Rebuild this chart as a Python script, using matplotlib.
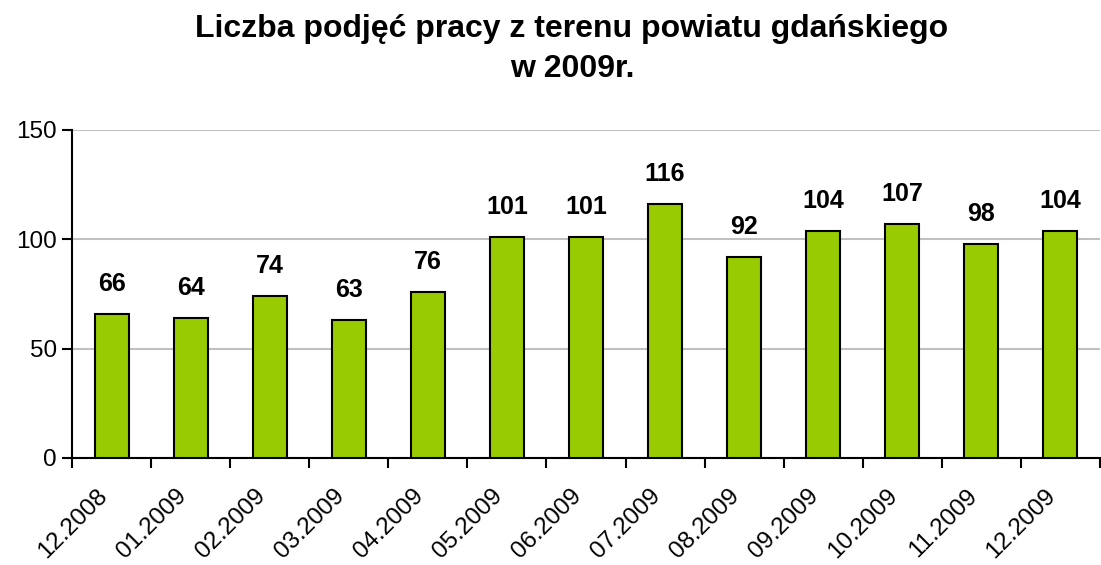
import numpy as np
import matplotlib.pyplot as plt
import matplotlib.transforms as mtransforms

plt.rcParams['font.family'] = ['Liberation Sans', 'DejaVu Sans']

months = ['12.2008', '01.2009', '02.2009', '03.2009', '04.2009', '05.2009', '06.2009',
          '07.2009', '08.2009', '09.2009', '10.2009', '11.2009', '12.2009']
values = [66, 64, 74, 63, 76, 101, 101, 116, 92, 104, 107, 98, 104]

fig = plt.figure(figsize=(11.01, 5.65), dpi=100)
ax = fig.add_axes([72 / 1101, 1 - 458 / 565, 1028 / 1101, 328 / 565])

x = np.arange(len(months))
bars = ax.bar(x, values, width=0.43, color='#99CC00', edgecolor='black', linewidth=1.5, zorder=3)

for xi, v in zip(x, values):
    ax.annotate(str(v), (xi, v), xytext=(0, 13), textcoords='offset points',
                ha='center', va='bottom', fontsize=18, fontweight='bold')

ax.set_xlim(-0.5, len(months) - 0.5)
ax.set_ylim(0, 150)
ax.set_yticks([0, 50, 100, 150])
ax.yaxis.grid(True, color='#C0C0C0', linewidth=1.5, zorder=0)
ax.tick_params(axis='y', labelsize=17.5, length=7, width=1.5, direction='out', pad=4)

# kategorie: etykiety w srodku, kreski na granicach
ax.set_xticks(x)
ax.set_xticklabels(months, rotation=45, ha='right', va='center', rotation_mode='anchor', fontsize=17.5)
ax.tick_params(axis='x', which='major', length=0, pad=25)
ax.set_xticks(np.arange(-0.5, len(months)), minor=True)
ax.tick_params(axis='x', which='minor', length=7, width=1.5, direction='out')

# przesuniecie etykiet troche w lewo
shift = mtransforms.ScaledTranslation(-8 / 100, 0, fig.dpi_scale_trans)
for lab in ax.get_xticklabels():
    lab.set_transform(lab.get_transform() + shift)

for s in ['top', 'right']:
    ax.spines[s].set_visible(False)
for s in ['left', 'bottom']:
    ax.spines[s].set_linewidth(1.5)

fig.text(572 / 1101, 1 - 29 / 565, 'Liczba podjęć pracy z terenu powiatu gdańskiego',
         ha='center', va='center', fontsize=23, fontweight='bold')
fig.text(572 / 1101, 1 - 69 / 565, 'w 2009r.', ha='center', va='center', fontsize=23, fontweight='bold')

fig.savefig('out.png', dpi=100)
